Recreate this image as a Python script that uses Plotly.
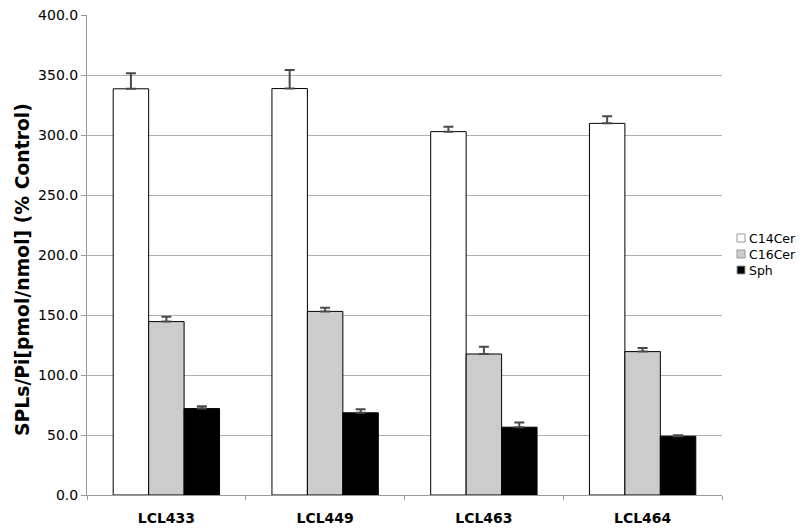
import plotly.graph_objects as go

categories = ["LCL433", "LCL449", "LCL463", "LCL464"]
series_names = ["C14Cer", "C16Cer", "Sph"]
c14_values = [338.5, 338.7, 302.8, 309.7]
c14_errors = [13.0, 15.5, 4.0, 6.0]
c16_values = [144.5, 153.0, 117.5, 119.5]
c16_errors = [4.0, 3.0, 6.0, 3.0]
sph_values = [72.0, 68.5, 56.5, 49.0]
sph_errors = [2.0, 3.0, 4.0, 0.8]
y_ticks = [0, 50, 100, 150, 200, 250, 300, 350, 400]

values = [c14_values, c16_values, sph_values]
errors = [c14_errors, c16_errors, sph_errors]
colors = ["#ffffff", "#cccccc", "#000000"]

font = "DejaVu Sans, Verdana, sans-serif"
fig = go.Figure()
for name, v, e, c in zip(series_names, values, errors, colors):
    fig.add_trace(go.Bar(
        x=categories, y=v, name=name, showlegend=False,
        marker=dict(color=c, line=dict(color="#000000", width=1)),
        error_y=dict(type="data", array=e, symmetric=False, arrayminus=[0]*len(e),
                     color="#4a4a4a", thickness=2, width=5),
    ))

# custom legend (swatch + label) to the right of the plot
L, R, T, B = 87, 78, 15, 35
W, H = 800, 530
pw, ph = W - L - R, H - T - B
shapes, annotations = [], []
for i, (name, c) in enumerate(zip(series_names, colors)):
    yc = 238 + 16 * i
    x0 = (737 - L) / pw
    x1 = (745 - L) / pw
    y0 = (H - B - (yc + 4)) / ph
    y1 = (H - B - (yc - 4)) / ph
    shapes.append(dict(type="rect", xref="paper", yref="paper", x0=x0, x1=x1, y0=y0, y1=y1,
                       fillcolor=c, line=dict(color="#999999", width=1)))
    annotations.append(dict(text=name, xref="paper", yref="paper", x=(747 - L) / pw,
                            y=(H - B - yc) / ph, xanchor="left", yanchor="middle",
                            showarrow=False, font=dict(size=12.5, family=font, color="#000000")))
annotations.append(dict(text="<b>SPLs/Pi[pmol/nmol] (% Control)</b>", xref="paper", yref="paper",
                        x=(22 - L) / pw, y=(H - B - 270) / ph, textangle=-90,
                        xanchor="center", yanchor="middle", showarrow=False,
                        font=dict(size=18.8, family=font, color="#000000")))

fig.update_layout(
    width=W, height=H,
    margin=dict(l=L, r=R, t=T, b=B, autoexpand=False),
    paper_bgcolor="white", plot_bgcolor="white",
    barmode="group", bargap=0.33, bargroupgap=0,
    font=dict(family=font, size=14, color="#000000"),
    showlegend=False, shapes=shapes, annotations=annotations,
)
fig.update_xaxes(
    type="category", tickson="boundaries", ticks="outside", ticklen=4,
    tickcolor="#999999", showline=True, linecolor="#999999", linewidth=1,
    showgrid=False, automargin=False, ticklabelstandoff=10,
    tickfont=dict(size=14, family=font, weight="bold"),
)
fig.update_yaxes(
    range=[0, 400], tickvals=y_ticks, ticktext=[f"{t:.1f}" for t in y_ticks],
    ticks="outside", ticklen=5, tickcolor="#999999",
    showline=True, linecolor="#999999", linewidth=1,
    showgrid=True, gridcolor="#b0b0b0", gridwidth=1,
    tickfont=dict(size=14), zeroline=False, automargin=False,
)
fig.write_html("out.html", config={"displayModeBar": False},
               post_script="document.body.style.margin='0';document.body.style.overflow='hidden';")
